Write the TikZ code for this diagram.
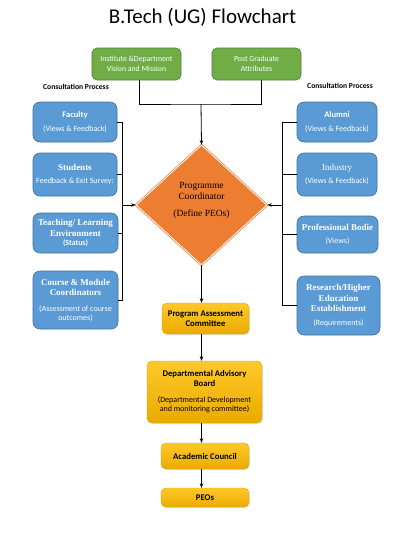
\documentclass[tikz,border=0pt]{standalone}
\usepackage{fontspec}
\setmainfont{Liberation Serif}
\setsansfont{Carlito}
\usetikzlibrary{shapes.geometric,arrows.meta,calc,shadows}

\definecolor{gfill}{HTML}{70AD47}
\definecolor{gline}{HTML}{507E32}
\definecolor{bfill}{HTML}{5B9BD5}
\definecolor{bline}{HTML}{41719C}
\definecolor{ofill}{HTML}{ED7D31}
\definecolor{ytop}{HTML}{FFC82A}
\definecolor{ybot}{HTML}{E9AB00}
\definecolor{yline}{HTML}{D9A300}

\newcommand{\bsub}[1]{{\sffamily\mdseries\fontsize{8}{9}\selectfont #1}}
\newcommand{\bsans}[1]{{\sffamily\bfseries\fontsize{8.5}{10}\selectfont #1}}

\tikzset{
  greenbox/.style={draw=gline, fill=gfill, rounded corners=5pt, line width=0.6pt,
    text=white, font=\sffamily\fontsize{7.8}{9.5}\selectfont, align=center, inner sep=0pt},
  bluebox/.style={draw=bline, fill=bfill, rounded corners=7pt, line width=0.6pt,
    text=white, font=\rmfamily\bfseries\fontsize{9}{10.5}\selectfont, align=center, inner sep=0pt},
  yellowbox/.style={draw=yline, top color=ytop, bottom color=ybot, rounded corners=5pt,
    line width=0.4pt, font=\sffamily\bfseries\fontsize{8.7}{10}\selectfont, align=center,
    inner sep=0pt, drop shadow={opacity=0.25, shadow xshift=0.8pt, shadow yshift=-1pt}},
  conn/.style={line width=0.8pt, black},
  arr/.style={conn, -{Stealth[length=4.5pt,width=3.5pt]}},
  plabel/.style={font=\sffamily\bfseries\fontsize{7.6}{9}\selectfont, inner sep=0pt}
}

\begin{document}
\begin{tikzpicture}[x=1pt,y=-1pt]
\useasboundingbox[fill=white] (0,0) rectangle (416,533);

\node[font=\sffamily\fontsize{21}{24}\selectfont, inner sep=0pt] (title) at (202.5,17.5) {B.Tech (UG) Flowchart};

% green boxes
\node[greenbox, minimum width=89pt, minimum height=32pt] (gL) at (136.5,64) {Institute \&Department\\Vision and Mission};
\node[greenbox, minimum width=89pt, minimum height=32pt] (gR) at (256.5,64) {Post Graduate\\Attributes};

\node[plabel] (cpL) at (76,87) {Consultation Process};
\node[plabel] (cpR) at (340,85.5) {Consultation Process};

% left blue boxes
\node[bluebox, minimum width=84pt, minimum height=40pt] (fac) at (75,122)
  {\bsans{Faculty}\\[4pt]\bsub{(Views \& Feedback)}};
\node[bluebox, minimum width=84pt, minimum height=43pt] (stu) at (75,174.5)
  {Students\\[2pt]\bsub{Feedback \& Exit Survey:}};
\node[bluebox, minimum width=85pt, minimum height=40pt] (tea) at (75.5,233)
  {Teaching/ Learning\\Environment\\[-1.5pt]\bsans{\fontsize{7.8}{9}\selectfont(Status)}};
\node[bluebox, minimum width=85pt, minimum height=58pt] (crs) at (75.5,300)
  {Course \& Module\\Coordinators\\[5pt]\bsub{(Assessment of course}\\[-1.5pt]\bsub{outcomes)}};

% right blue boxes
\node[bluebox, minimum width=80pt, minimum height=40pt] (alu) at (337,122)
  {\bsans{Alumni}\\[4pt]\bsub{(Views \& Feedback)}};
\node[bluebox, minimum width=80pt, minimum height=43pt] (ind) at (337,174.5)
  {\mdseries Industry\\[2pt]\bsub{(Views \& Feedback)}};
\node[bluebox, minimum width=81pt, minimum height=37pt] (pro) at (337.5,234.5)
  {Professional Bodie\\[3pt]\bsub{(Views)}};
\node[bluebox, minimum width=83pt, minimum height=59pt] (res) at (338.5,305.5)
  {Research/Higher\\Education\\Establishment\\[3pt]\bsub{(Requirements)}};

% diamond
\node[diamond, fill=ofill, draw=ofill, double=white, double distance=0.8pt, line width=0.7pt,
  minimum width=131pt, minimum height=120pt, inner sep=0pt] (dia) at (201.5,205) {};
\node[align=center, font=\rmfamily\fontsize{9.5}{11}\selectfont, inner sep=0pt] (diat) at (201.5,200)
  {Programme\\Coordinator\\[6pt](Define PEOs)};

% yellow boxes
\node[yellowbox, minimum width=87pt, minimum height=31pt] (pac) at (205.5,318.5) {Program Assessment\\Committee};
\node[yellowbox, minimum width=115pt, minimum height=62pt] (dab) at (204.5,392)
  {Departmental Advisory\\Board\\[6pt]{\mdseries\fontsize{8}{9}\selectfont(Departmental Development}\\[-1pt]{\mdseries\fontsize{8}{9}\selectfont and monitoring committee)}};
\node[yellowbox, minimum width=88pt, minimum height=26pt] (ac) at (205,456) {Academic Council};
\node[yellowbox, minimum width=88pt, minimum height=19pt] (peo) at (205,497.5) {PEOs};

% top connectors
\coordinate (j) at (201,104);
\draw[conn] ($(gL.south)+(2.5,0)$) |- (j) -| ($(gR.south)+(4.5,0)$);
\draw[arr] (j) -- (dia.north);

% left bracket
\coordinate (lb) at (122,205);
\draw[conn] (fac.east) -- (fac.east -| lb) -- (crs.east -| lb) -- (crs.east);
\draw[conn] (stu.east) -- (stu.east -| lb);
\draw[conn] (tea.east) -- (tea.east -| lb);
\draw[arr] (lb) -- (dia.west);

% right bracket
\coordinate (rb) at (282,205);
\draw[conn] (alu.west) -- (alu.west -| rb) -- (res.west -| rb) -- (res.west);
\draw[conn] (ind.west) -- (ind.west -| rb);
\draw[conn] (pro.west) -- (pro.west -| rb);
\draw[arr] (rb) -- (dia.east);

% vertical chain
\draw[arr] (dia.south) -- (dia.south |- pac.north);
\draw[arr] (pac.south -| dia.south) -- (dia.south |- dab.north);
\draw[arr] (dab.south -| dia.south) -- (dia.south |- ac.north);
\draw[arr] (ac.south -| dia.south) -- (dia.south |- peo.north);
\end{tikzpicture}
\end{document}
